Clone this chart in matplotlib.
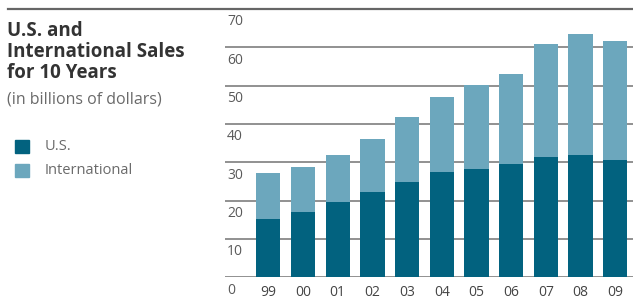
import matplotlib.pyplot as plt
import numpy as np

years = ['99', '00', '01', '02', '03', '04', '05', '06', '07', '08', '09']
us_sales = [15.2, 17.0, 19.6, 22.2, 24.9, 27.5, 28.2, 29.6, 31.5, 32.0, 30.6]
total_sales = [27.1, 28.9, 32.0, 36.1, 41.7, 47.1, 50.2, 53.0, 60.8, 63.6, 61.7]
intl_sales = [t - u for t, u in zip(total_sales, us_sales)]
y_ticks = [0, 10, 20, 30, 40, 50, 60, 70]

us_color = '#02627f'
intl_color = '#6ca7bd'
text_color = '#5a5a5a'

plt.rcParams['font.family'] = ['Open Sans', 'DejaVu Sans']

fig = plt.figure(figsize=(6.33, 3.01), dpi=100)
ax = fig.add_axes([225 / 633, 1 - 277.3 / 301, 1 - 225 / 633, (277.3 - 9) / 301])

x = np.arange(len(years))
ax.bar(x, us_sales, width=0.7, color=us_color, zorder=3)
ax.bar(x, intl_sales, width=0.7, bottom=us_sales, color=intl_color, zorder=3)

ax.set_xlim(-1.248, 10.51)
ax.set_ylim(0, 70)
for t in y_ticks:
    if t != 70:
        ax.axhline(t, color='#888888', lw=1.3, zorder=1)
    ax.text(0.005, t - 1.4, str(t), transform=ax.get_yaxis_transform(),
            ha='left', va='top', fontsize=10, color=text_color)
for i, yr in enumerate(years):
    ax.text(i, -1.9, yr, ha='center', va='top', fontsize=10, color='#444444')

for s in ax.spines.values():
    s.set_visible(False)
ax.set_xticks([])
ax.set_yticks([])

# top rule across whole figure
fig.add_artist(plt.Line2D([8 / 633, 1], [1 - 9 / 301, 1 - 9 / 301],
                          color='#666666', lw=1.6))

fig.text(7 / 633, 1 - 21 / 301, 'U.S. and\nInternational Sales\nfor 10 Years',
         ha='left', va='top', fontsize=13.5, fontweight='bold', color='#333333',
         linespacing=1.08)
fig.text(7 / 633, 1 - 92 / 301, '(in billions of dollars)', ha='left', va='top',
         fontsize=11.5, color='#6a6a6a')

fig.add_artist(plt.Rectangle((15 / 633, 1 - 153 / 301), 14 / 633, 13 / 301,
                             color=us_color, transform=fig.transFigure))
fig.add_artist(plt.Rectangle((15 / 633, 1 - 177 / 301), 14 / 633, 13 / 301,
                             color=intl_color, transform=fig.transFigure))
fig.text(45 / 633, 1 - 147 / 301, 'U.S.', ha='left', va='center',
         fontsize=10.5, color='#6a6a6a')
fig.text(45 / 633, 1 - 171 / 301, 'International', ha='left', va='center',
         fontsize=10.5, color='#6a6a6a')

fig.savefig('out.png', dpi=100)
